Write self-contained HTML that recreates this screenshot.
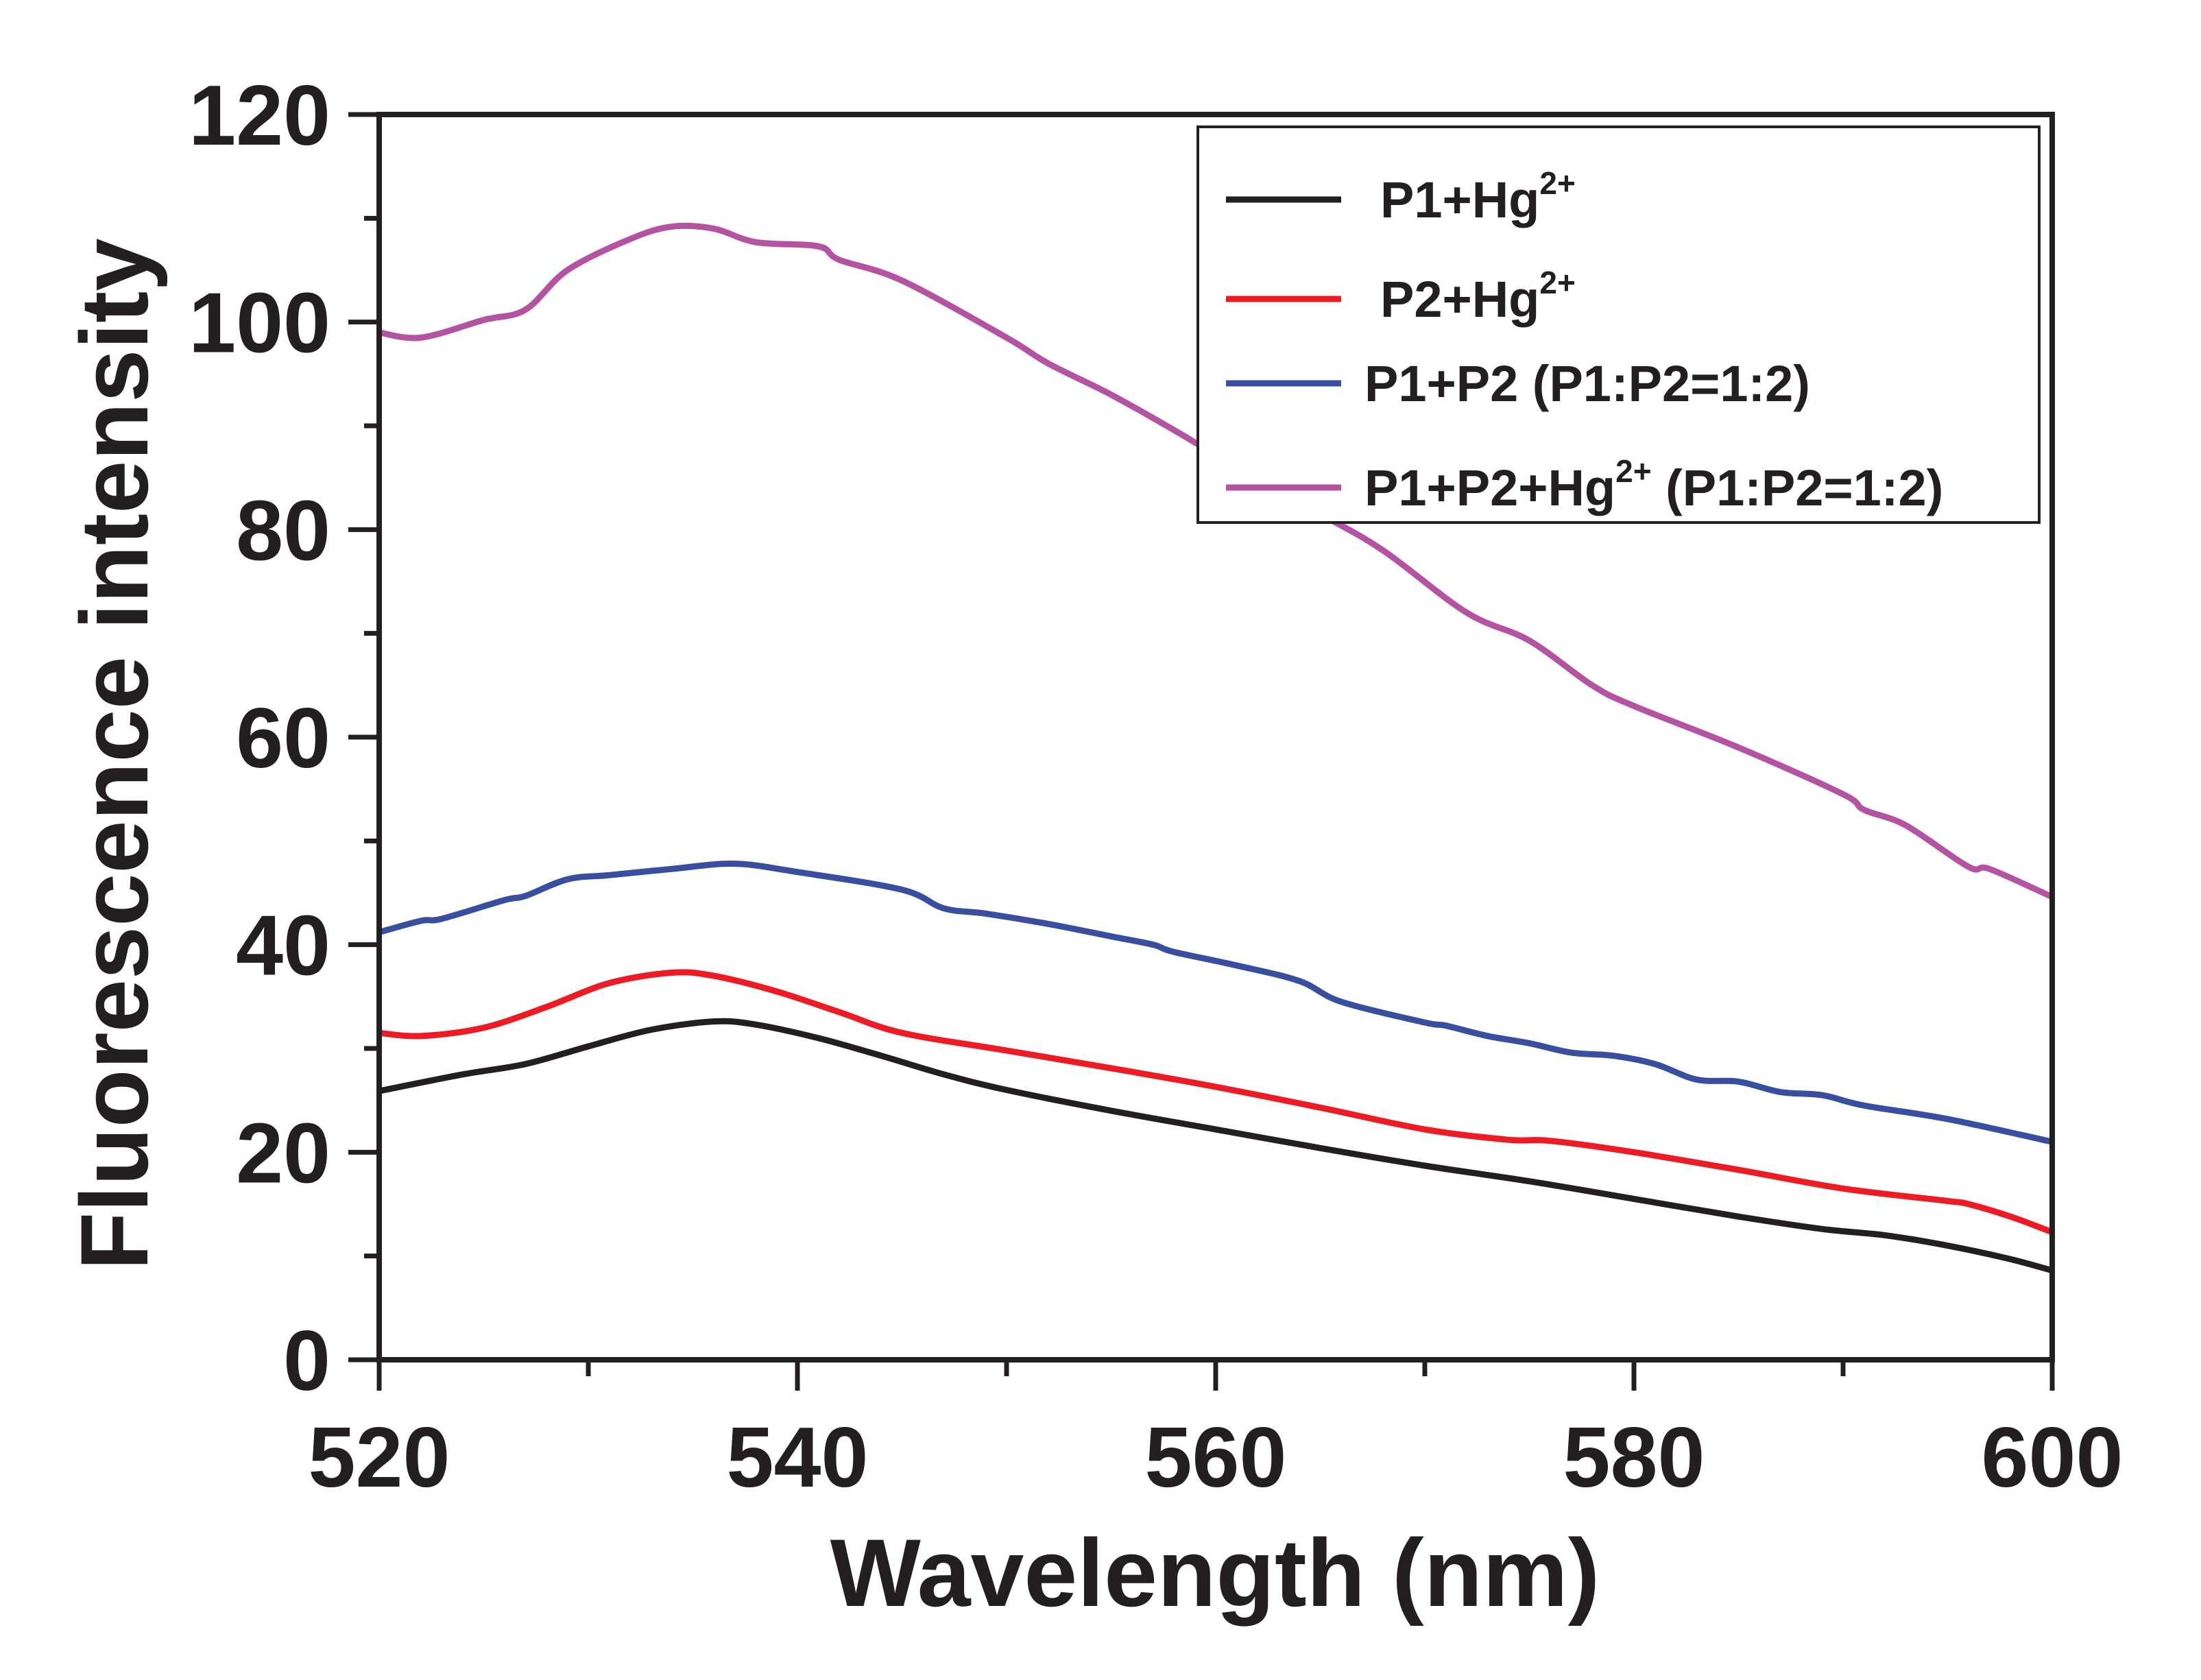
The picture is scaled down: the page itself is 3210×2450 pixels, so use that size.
<!DOCTYPE html>
<html><head><meta charset="utf-8"><style>
html,body{margin:0;padding:0;background:#fff;}
svg{display:block;font-family:"Liberation Sans",sans-serif;font-weight:bold;}
</style></head><body>
<svg id="chart" width="3210" height="2450" viewBox="0 0 3210 2450" xmlns="http://www.w3.org/2000/svg">
<g id="series"></g>
<g id="axes"></g>
<g id="legend"></g>
</svg>
<script>
const xP1Hg = [520,524,527,530,533,536,538,541,544,547,550,555,560,565,570,575,580,585,589,592,595,598,600];
const yP1Hg = [25.9,27.5,28.5,30.2,31.8,32.6,32.3,31,29.3,27.5,26,24,22.2,20.4,18.7,17.2,15.5,13.8,12.6,12,11,9.7,8.6];
const xP2Hg = [520,522,525,528,531,534,536,539,542,545,550,555,560,565,570,574,576,580,585,590,595,596,598,600];
const yP2Hg = [31.5,31.2,32,34,36.3,37.3,37,35.5,33.5,31.5,29.8,28.1,26.3,24.3,22.2,21.2,21.1,20,18.3,16.5,15.3,15,13.8,12.3];
const xP1P2 = [520,522,523,526,527,529,531,534,537,540,545,547,549,552,555,557,558,561,564,566,570,571,573,575,577,579,581,583,585,587,589,591,595,600];
const yP1P2 = [41.2,42.3,42.5,44.3,44.7,46.3,46.7,47.3,47.8,47,45.3,43.5,43,42,40.8,40,39.3,38,36.5,34.5,32.5,32.2,31.2,30.5,29.6,29.3,28.5,27,26.8,25.8,25.5,24.5,23.2,21];
const xP1P2Hg = [520,522,525,527,529,532,534,536,538,541,542,545,550,552,555,558,561,565,568,572,575,578,580,585,590,591,593,596,597,600];
const yP1P2Hg = [99,98.5,100.2,101.2,105,108,109.2,109,107.7,107.3,106,104,98.5,96,93,89.6,86,81.5,78,72,69.3,65,63,59,54.5,53,51.5,47.5,47.3,44.6];
const xTicks = [520,540,560,580,600];
const xTickLabels = ["520","540","560","580","600"];
const yTicks = [0,20,40,60,80,100,120];
const yTickLabels = ["0","20","40","60","80","100","120"];

const L=553,R=2993,T=167,B=1983;
const X0=520,X1=600,Y0=0,Y1=120;
function sx(v){return L+(v-X0)/(X1-X0)*(R-L);}
function sy(v){return B-(v-Y0)/(Y1-Y0)*(B-T);}
const NS="http://www.w3.org/2000/svg";
function mk(tag,attrs,parent){const e=document.createElementNS(NS,tag);for(const k in attrs)e.setAttribute(k,attrs[k]);parent.appendChild(e);return e;}

const series=[
 {x:xP1Hg,y:yP1Hg,c:"#231f20",n:"series-p1-hg"},
 {x:xP2Hg,y:yP2Hg,c:"#ed1c24",n:"series-p2-hg"},
 {x:xP1P2,y:yP1P2,c:"#3a4ea0",n:"series-p1-p2"},
 {x:xP1P2Hg,y:yP1P2Hg,c:"#b553a3",n:"series-p1-p2-hg"}
];
const sg=document.getElementById('series');
series.forEach(s=>{
 const pts=s.x.map((v,i)=>[sx(v),sy(s.y[i])]);
 let d="M"+pts[0][0]+","+pts[0][1];
 for(let i=0;i<pts.length-1;i++){
  const p0=pts[Math.max(0,i-1)],p1=pts[i],p2=pts[i+1],p3=pts[Math.min(pts.length-1,i+2)];
  const c1x=p1[0]+(p2[0]-p0[0])/6,c1y=p1[1]+(p2[1]-p0[1])/6;
  const c2x=p2[0]-(p3[0]-p1[0])/6,c2y=p2[1]-(p3[1]-p1[1])/6;
  d+=" C"+c1x+","+c1y+" "+c2x+","+c2y+" "+p2[0]+","+p2[1];
 }
 const p=mk('path',{d:d,fill:"none",stroke:s.c,"stroke-width":9,"stroke-linejoin":"round"},sg);
 
 
});

const ag=document.getElementById('axes');
const frame=mk('rect',{x:L,y:T,width:R-L,height:B-T,fill:"none",stroke:"#231f20","stroke-width":8},ag);


for(let v=X0;v<=X1;v+=10){
 const major=(v%20===0);
 const t=mk('line',{x1:sx(v),x2:sx(v),y1:B,y2:B+(major?45:24),stroke:"#231f20","stroke-width":7},ag);
 
 
}
xTicks.forEach((v,i)=>{
 const t=mk('text',{x:sx(v),y:2168,"text-anchor":"middle","font-size":124,fill:"#231f20"},ag);
 t.textContent=xTickLabels[i];
 
 
});
for(let v=Y0;v<=Y1;v+=10){
 const major=(v%20===0);
 const t=mk('line',{x1:L,x2:L-(major?45:22),y1:sy(v),y2:sy(v),stroke:"#231f20","stroke-width":7},ag);
 
 
}
yTicks.forEach((v,i)=>{
 const t=mk('text',{x:482,y:sy(v)+44,"text-anchor":"end","font-size":124,fill:"#231f20"},ag);
 t.textContent=yTickLabels[i];
 
 
});
const xt=mk('text',{x:1772,y:2342,"text-anchor":"middle","font-size":140,fill:"#231f20"},ag);
xt.textContent="Wavelength (nm)";


const yt=mk('text',{x:0,y:0,"text-anchor":"middle","font-size":140,fill:"#231f20",transform:"translate(215,1100) rotate(-90)",textLength:1505,lengthAdjust:"spacingAndGlyphs"},ag);
yt.textContent="Fluorescence intensity";



const lg=document.getElementById('legend');
const lb=mk('rect',{x:1747,y:185,width:1227,height:577,fill:"#fff",stroke:"#231f20","stroke-width":4},lg);


const entries=[
 {c:"#231f20",y:291,tx:2013,parts:["P1+Hg","2+",""]},
 {c:"#ed1c24",y:436,tx:2013,parts:["P2+Hg","2+",""]},
 {c:"#3a4ea0",y:559,tx:1990,parts:["P1+P2 (P1:P2=1:2)","",""]},
 {c:"#b553a3",y:711,tx:1990,parts:["P1+P2+Hg","2+"," (P1:P2=1:2)"]}
];
entries.forEach(e=>{
 const ln=mk('line',{x1:1788,x2:1956,y1:e.y,y2:e.y,stroke:e.c,"stroke-width":9},lg);
 
 
 const t=mk('text',{x:e.tx,y:e.y+26,"font-size":74,fill:"#231f20"},lg);
 
 
 t.appendChild(document.createTextNode(e.parts[0]));
 if(e.parts[1]){const s=mk('tspan',{"font-size":46,dy:-34},t);s.textContent=e.parts[1];}
 if(e.parts[2]){const s=mk('tspan',{dy:34},t);s.textContent=e.parts[2];}
});
</script>
</body></html>
